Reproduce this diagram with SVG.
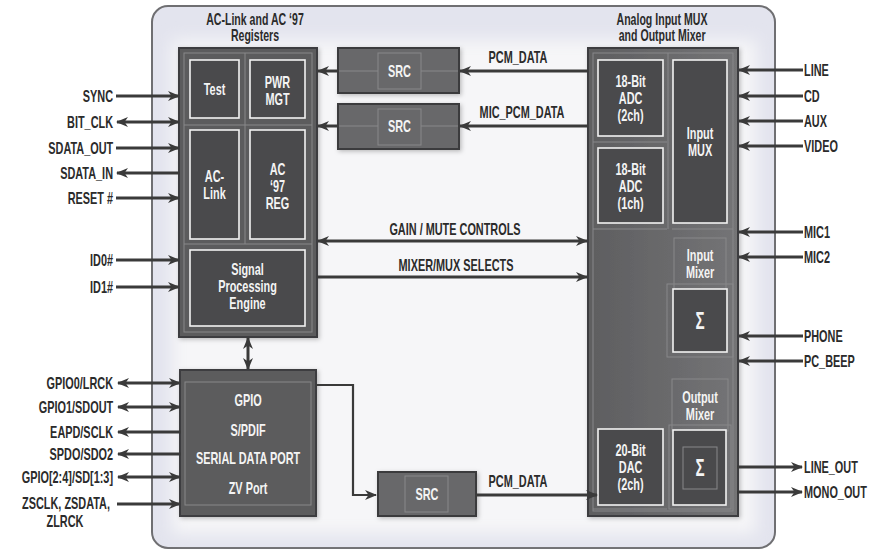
<svg xmlns="http://www.w3.org/2000/svg" width="877" height="550" viewBox="0 0 877 550">
<defs>
<style>
.t{font-family:"Liberation Sans",Arial,sans-serif;font-weight:bold;font-size:16.5px;fill:#2b2b2b;transform-box:fill-box;transform:scaleX(.66)}
.e{text-anchor:end;transform-origin:100% 50%}
.s{text-anchor:start;transform-origin:0% 50%}
.m{text-anchor:middle;transform-origin:50% 50%}
.w{fill:#f4f4f4}
.blk{fill:#5b5b5d;stroke:#3d3d3f;stroke-width:2}
.in{fill:#4a4a4c;stroke:#f2f2f2;stroke-width:1.6}
.faint{fill:none;stroke:#88888a;stroke-width:1}
.src{fill:#68686a;stroke:#3b3b3d;stroke-width:2}
.c{fill:none;stroke:#3a3a3a;stroke-width:3}
.c2{fill:none;stroke:#3a3a3a;stroke-width:2.2}
</style>
<marker id="ah" viewBox="0 0 12 10" refX="11" refY="5" markerWidth="12" markerHeight="10" markerUnits="userSpaceOnUse" orient="auto-start-reverse">
<path d="M0,0 L12,5 L0,10 L3.5,5 z" fill="#3a3a3a"/>
</marker>
<linearGradient id="rg" x1="0" y1="0" x2="1" y2="0">
<stop offset="0" stop-color="#5e5e60"/>
<stop offset="1" stop-color="#747476"/>
</linearGradient>
<filter id="blur" x="-10%" y="-10%" width="120%" height="120%"><feGaussianBlur stdDeviation="8"/></filter>
<filter id="sh" x="-10%" y="-10%" width="130%" height="130%"><feDropShadow dx="1.5" dy="1.5" stdDeviation="2" flood-color="#000" flood-opacity="0.25"/></filter>
</defs>
<rect width="877" height="550" fill="#ffffff"/>
<g id="panel">
<rect x="152" y="6" width="623" height="542" rx="16" fill="#e3e4ee" stroke="#6f6f72" stroke-width="2"/>
<rect x="172" y="40" width="584" height="494" fill="#f6f6f8" filter="url(#blur)"/>
<text class="t m" x="255" y="25" style="font-size:16px">AC-Link and AC ‘97</text>
<text class="t m" x="255" y="41" style="font-size:16px">Registers</text>
<text class="t m" x="662" y="25" style="font-size:16px">Analog Input MUX</text>
<text class="t m" x="662" y="41" style="font-size:16px">and Output Mixer</text>
</g>
<g id="aclink">
<rect class="blk" x="179" y="48" width="138" height="289" filter="url(#sh)"/>
<rect class="faint" x="184" y="53" width="128" height="279"/>
<path class="faint" d="M184,125 H312 M184,244 H312 M245,53 V244"/>
<rect class="in" x="190" y="60" width="49" height="58"/>
<text class="t m w" x="214.5" y="95">Test</text>
<rect class="in" x="250" y="60" width="55" height="58"/>
<text class="t m w" x="277.5" y="88">PWR<tspan x="277.5" dy="17">MGT</tspan></text>
<rect class="in" x="190" y="130" width="49" height="109"/>
<text class="t m w" x="214.5" y="182">AC-<tspan x="214.5" dy="17">Link</tspan></text>
<rect class="in" x="250" y="130" width="55" height="109"/>
<text class="t m w" x="277.5" y="175">AC<tspan x="277.5" dy="17">‘97</tspan><tspan x="277.5" dy="17">REG</tspan></text>
<rect class="in" x="190" y="250" width="115" height="76"/>
<text class="t m w" x="247.5" y="275">Signal<tspan x="247.5" dy="17">Processing</tspan><tspan x="247.5" dy="17">Engine</tspan></text>
</g>
<g id="src1">
<rect class="src" x="338" y="48" width="121" height="45" filter="url(#sh)"/>
<rect class="faint" x="378" y="53" width="43" height="36"/>
<path class="faint" d="M339,71 H378 M421,71 H458"/>
<text class="t m w" x="399.5" y="77">SRC</text>
</g>
<g id="src2">
<rect class="src" x="338" y="104" width="121" height="45" filter="url(#sh)"/>
<rect class="faint" x="378" y="109" width="43" height="36"/>
<path class="faint" d="M339,126 H378 M421,126 H458"/>
<text class="t m w" x="399.5" y="132">SRC</text>
</g>
<g id="analog">
<rect x="588" y="48" width="150" height="468" fill="url(#rg)" stroke="#3d3d3f" stroke-width="2" filter="url(#sh)"/>
<rect class="faint" x="593" y="53" width="140" height="458"/>
<path class="faint" d="M593,142 H667 M593,229 H667 M672,229 H733 M668,53 V229 M593,509 H667"/>
<rect class="in" x="598" y="60" width="65" height="76"/>
<text class="t m w" x="630.5" y="87">18-Bit<tspan x="630.5" dy="17">ADC</tspan><tspan x="630.5" dy="17">(2ch)</tspan></text>
<rect class="in" x="598" y="148" width="65" height="75"/>
<text class="t m w" x="630.5" y="175">18-Bit<tspan x="630.5" dy="17">ADC</tspan><tspan x="630.5" dy="17">(1ch)</tspan></text>
<rect class="in" x="673" y="60" width="54" height="163"/>
<text class="t m w" x="700" y="139">Input<tspan x="700" dy="17">MUX</tspan></text>
</g>
<g id="inputmixer">
<rect class="faint" x="674" y="238" width="52" height="52"/>
<rect class="faint" x="667" y="284" width="66" height="73"/>
<text class="t m w" x="700" y="261">Input<tspan x="700" dy="17">Mixer</tspan></text>
<rect class="in" x="673" y="289" width="54" height="63"/>
<text class="t m w" x="700" y="329" style="font-size:23px">Σ</text>
</g>
<g id="outputmixer">
<rect class="faint" x="672" y="379" width="56" height="52"/>
<rect class="faint" x="669" y="425" width="62" height="84"/>
<text class="t m w" x="700" y="403">Output<tspan x="700" dy="17">Mixer</tspan></text>
<rect class="in" x="673" y="430" width="53" height="75"/>
<rect class="faint" x="683" y="447" width="34" height="42"/>
<text class="t m w" x="700" y="476" style="font-size:23px">Σ</text>
</g>
<g id="dac">
<rect class="in" x="598" y="429" width="65" height="76"/>
<text class="t m w" x="630.5" y="456">20-Bit<tspan x="630.5" dy="17">DAC</tspan><tspan x="630.5" dy="17">(2ch)</tspan></text>
</g>
<g id="gpio">
<rect class="blk" x="180" y="370" width="136" height="146" fill="#636365" filter="url(#sh)"/>
<rect class="faint" x="185" y="382" width="126" height="123"/>
<text class="t m w" x="248" y="406">GPIO</text>
<text class="t m w" x="248" y="436">S/PDIF</text>
<text class="t m w" x="248" y="464">SERIAL DATA PORT</text>
<text class="t m w" x="248" y="494">ZV Port</text>
</g>
<g id="src3">
<rect class="src" x="378" y="472" width="98" height="44" filter="url(#sh)"/>
<rect class="faint" x="405" y="476" width="43" height="36"/>
<text class="t m w" x="427" y="500">SRC</text>
</g>
<g id="connectors">
<path class="c" d="M116,96 H179" marker-end="url(#ah)"/>
<path class="c" d="M117,122 H179" marker-start="url(#ah)" marker-end="url(#ah)"/>
<path class="c" d="M116,148 H179" marker-end="url(#ah)"/>
<path class="c" d="M180,173 H117" marker-end="url(#ah)"/>
<path class="c" d="M116,198 H179" marker-end="url(#ah)"/>
<path class="c" d="M116,260 H179" marker-end="url(#ah)"/>
<path class="c" d="M116,287 H179" marker-end="url(#ah)"/>
<path class="c" d="M118,383 H180" marker-start="url(#ah)" marker-end="url(#ah)"/>
<path class="c" d="M118,407 H180" marker-start="url(#ah)" marker-end="url(#ah)"/>
<path class="c" d="M181,432 H118" marker-end="url(#ah)"/>
<path class="c" d="M181,454 H118" marker-end="url(#ah)"/>
<path class="c" d="M118,477 H180" marker-start="url(#ah)" marker-end="url(#ah)"/>
<path class="c" d="M117,504 H180" marker-end="url(#ah)"/>
<path class="c" d="M803,70 H739" marker-end="url(#ah)"/>
<path class="c" d="M803,96 H739" marker-end="url(#ah)"/>
<path class="c" d="M803,121 H739" marker-end="url(#ah)"/>
<path class="c" d="M803,146 H739" marker-end="url(#ah)"/>
<path class="c" d="M803,232 H739" marker-end="url(#ah)"/>
<path class="c" d="M803,257 H739" marker-end="url(#ah)"/>
<path class="c" d="M803,336 H739" marker-end="url(#ah)"/>
<path class="c" d="M803,361 H739" marker-end="url(#ah)"/>
<path class="c" d="M737,467 H802" marker-end="url(#ah)"/>
<path class="c" d="M737,492 H802" marker-end="url(#ah)"/>
<path class="c" d="M588,71 H460" marker-end="url(#ah)"/>
<path class="c" d="M588,126 H460" marker-end="url(#ah)"/>
<path class="c" d="M338,71 H318" marker-end="url(#ah)"/>
<path class="c" d="M338,126 H318" marker-end="url(#ah)"/>
<path class="c" d="M318,241 H587" marker-start="url(#ah)" marker-end="url(#ah)"/>
<path class="c" d="M317,277 H587" marker-end="url(#ah)"/>
<path class="c" d="M248,338 V369" marker-start="url(#ah)" marker-end="url(#ah)"/>
<path class="c2" d="M316,385 H353 V495 H376" marker-end="url(#ah)"/>
<path class="c" d="M476,495 H597" marker-end="url(#ah)"/>
</g>
<g id="labels">
<text class="t e" x="113" y="102">SYNC</text>
<text class="t e" x="113" y="128">BIT_CLK</text>
<text class="t e" x="113" y="154">SDATA_OUT</text>
<text class="t e" x="113" y="179">SDATA_IN</text>
<text class="t e" x="113" y="204">RESET #</text>
<text class="t e" x="113" y="266">ID0#</text>
<text class="t e" x="113" y="293">ID1#</text>
<text class="t e" x="113" y="389">GPIO0/LRCK</text>
<text class="t e" x="113" y="413">GPIO1/SDOUT</text>
<text class="t e" x="113" y="438">EAPD/SCLK</text>
<text class="t e" x="113" y="460">SPDO/SDO2</text>
<text class="t e" x="113" y="483">GPIO[2:4]/SD[1:3]</text>
<text class="t m" x="66" y="509">ZSCLK, ZSDATA,</text>
<text class="t m" x="65" y="527">ZLRCK</text>
<text class="t s" x="804" y="76">LINE</text>
<text class="t s" x="804" y="102">CD</text>
<text class="t s" x="804" y="127">AUX</text>
<text class="t s" x="804" y="152">VIDEO</text>
<text class="t s" x="804" y="238">MIC1</text>
<text class="t s" x="804" y="263">MIC2</text>
<text class="t s" x="804" y="342">PHONE</text>
<text class="t s" x="804" y="367">PC_BEEP</text>
<text class="t s" x="804" y="473">LINE_OUT</text>
<text class="t s" x="804" y="498">MONO_OUT</text>
<text class="t m" x="518" y="63">PCM_DATA</text>
<text class="t m" x="522" y="118">MIC_PCM_DATA</text>
<text class="t m" x="455" y="235">GAIN / MUTE CONTROLS</text>
<text class="t m" x="456" y="271">MIXER/MUX SELECTS</text>
<text class="t m" x="518" y="487">PCM_DATA</text>
</g>
</svg>
